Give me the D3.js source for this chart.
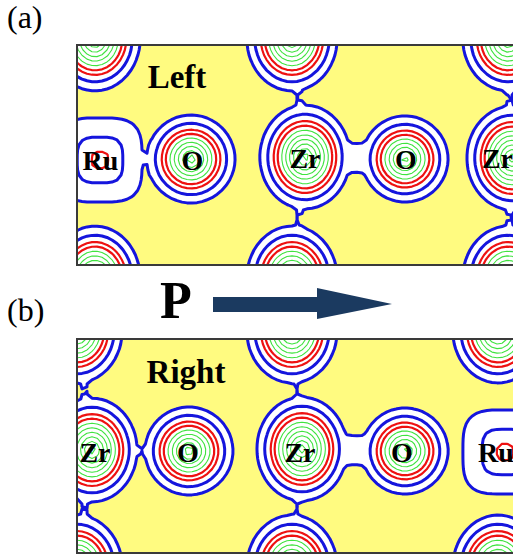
<!DOCTYPE html>
<html>
<head>
<meta charset="utf-8">
<script src="https://cdn.jsdelivr.net/npm/d3@7"></script>
<style>
  body { margin: 0; background: #ffffff; }
  svg { display: block; }
  text { font-family: "Liberation Serif", "Times New Roman", "DejaVu Serif", serif; }
</style>
</head>
<body>
<svg id="fig" width="513" height="556"></svg>
<script>
// ---- Contour levels of the valence charge density (arbitrary units) ----
const levels      = [1.0, 1.55, 2.16, 2.69, 3.36, 4.2, 5.2, 6.5, 8.1, 10.1];
const levelColors = ["#1515dd", "#1515dd", "#ee1111", "#ee1111",
                     "#3fe33f", "#3fe33f", "#3fe33f", "#3fe33f", "#3fe33f", "#3fe33f"];
const levelWidths = [3, 3, 2.2, 2.2, 1.1, 1.1, 1.1, 1.1, 1.1, 1.1];

// ---- Radial density model per element ----
const elementNames   = ["Zr", "O", "Ru"];
const elementAmp     = [12.2, 9.6, 2.6];    // peak density
const elementDecay   = [0.36, 0.38, 0.88];  // decay length (Å)
const elementStretch = [1.15, 1.0, 1.0];    // elongation along the chain (y)
const elementShape   = [2, 2, 3.5];         // superellipse exponent of the iso-surfaces

// ---- Panel (a): "Left" ----
const atomsA_species = ["Ru", "O", "Zr", "O", "Zr", "Zr", "Zr", "Zr", "Zr", "Zr", "Zr"];
const atomsA_x       = [0.46, 2.28, 4.56, 6.56, 8.70, 0.36, 4.30, 8.62, 0.36, 4.30, 8.62];
const atomsA_y       = [2.30, 2.28, 2.24, 2.28, 2.26, -0.12, -0.12, -0.12, 4.66, 4.66, 4.66];
const atomsA_charge  = [1.0, 1.05, 1.0, 1.0, 1.0, 1.0, 1.0, 1.0, 1.0, 1.0, 1.0];
const bondsA_from     = [0, 2, 6, 2, 7, 4];
const bondsA_to       = [1, 3, 2, 9, 4, 10];
const bondsA_strength = [1.0, 1.2, 1.0, 1.0, 1.0, 1.0];
const bondsA_width    = [0.13, 0.40, 0.14, 0.14, 0.14, 0.14];
const labelsA_text = ["Ru", "O", "Zr", "O", "Zr"];
const labelsA_x    = [0.47, 2.31, 4.56, 6.58, 8.41];
const labelsA_y    = [2.50, 2.50, 2.46, 2.48, 2.46];

// ---- Panel (b): "Right" ----
const atomsB_species = ["Zr", "O", "Zr", "O", "Ru", "Zr", "Zr", "Zr", "Zr", "Zr", "Zr"];
const atomsB_x       = [0.30, 2.24, 4.50, 6.56, 8.56, 0.00, 4.30, 8.42, 0.00, 4.30, 8.42];
const atomsB_y       = [2.22, 2.24, 2.20, 2.24, 2.26, -0.16, -0.16, -0.16, 4.56, 4.56, 4.56];
const atomsB_charge  = [1.0, 1.05, 1.0, 1.0, 1.0, 1.0, 1.0, 1.0, 1.0, 1.0, 1.0];
const bondsB_from     = [0, 2, 5, 0, 6, 2];
const bondsB_to       = [1, 3, 0, 8, 2, 9];
const bondsB_strength = [1.0, 1.2, 1.0, 1.0, 1.0, 1.0];
const bondsB_width    = [0.13, 0.40, 0.14, 0.14, 0.14, 0.14];
const labelsB_text = ["Zr", "O", "Zr", "O", "Ru"];
const labelsB_x    = [0.36, 2.22, 4.46, 6.50, 8.38];
const labelsB_y    = [2.46, 2.46, 2.46, 2.46, 2.46];

const panelTitles = ["Left", "Right"];
const panelTags   = ["(a)", "(b)"];

// ---- Layout ----
const PX = 50;          // pixels per Å
const CELL = 0.1;       // sampling step of the density grid (Å)
const MARGIN = 0.8;     // grid margin outside the frame (Å)
const NORM = 14;        // soft-max exponent when combining atomic densities

const svg = d3.select("#fig");
const defs = svg.append("defs");

function density(atoms, bonds, px, py) {
  let s = 0;
  for (const a of atoms) {
    const e = a.el;
    const dx = Math.abs(px - a.x);
    const dy = Math.abs(py - a.y) / e.stretch;
    const r = e.shape === 2 ? Math.hypot(dx, dy)
                            : Math.pow(Math.pow(dx, e.shape) + Math.pow(dy, e.shape), 1 / e.shape);
    const f = e.amp * a.q * Math.exp(-r / e.decay);
    s += Math.pow(f, NORM);
  }
  // bond charge: flat-sided tube between the two atom centres
  for (const b of bonds) {
    const ax = b.a.x, ay = b.a.y, bx = b.b.x, by = b.b.y;
    const vx = bx - ax, vy = by - ay;
    let t = ((px - ax) * vx + (py - ay) * vy) / (vx * vx + vy * vy);
    t = Math.max(0, Math.min(1, t));
    const u = Math.hypot(px - (ax + t * vx), py - (ay + t * vy)) / b.width;
    const f = b.strength * Math.exp(-Math.pow(u, 6));
    s += Math.pow(f, NORM);
  }
  return Math.pow(s, 1 / NORM);
}

function drawPanel(p) {
  const g = svg.append("g");
  const x = d3.scaleLinear().domain([0, p.width]).range([p.left, p.left + p.width * PX]);
  const y = d3.scaleLinear().domain([0, p.height]).range([p.top, p.top + p.height * PX]);

  const atoms = p.species.map((s, i) => {
    const k = elementNames.indexOf(s);
    return {
      x: p.ax[i], y: p.ay[i], q: p.charge[i],
      el: { amp: elementAmp[k], decay: elementDecay[k], stretch: elementStretch[k], shape: elementShape[k] }
    };
  });
  const bonds = p.bFrom.map((f, i) => ({
    a: atoms[f], b: atoms[p.bTo[i]], strength: p.bStrength[i], width: p.bWidth[i]
  }));

  // sample the density on a regular grid
  const x0 = -MARGIN, y0 = -MARGIN;
  const nx = Math.ceil((p.width + 2 * MARGIN) / CELL) + 1;
  const ny = Math.ceil((p.height + 2 * MARGIN) / CELL) + 1;
  const values = new Float64Array(nx * ny);
  for (let j = 0; j < ny; j++)
    for (let i = 0; i < nx; i++)
      values[j * nx + i] = density(atoms, bonds, x0 + i * CELL, y0 + j * CELL);

  const contours = d3.contours().size([nx, ny]).thresholds(levels)(values);
  const proj = d3.geoTransform({
    point(cx, cy) { this.stream.point(x(x0 + (cx - 0.5) * CELL), y(y0 + (cy - 0.5) * CELL)); }
  });
  const path = d3.geoPath(proj);

  const clipId = "clip-" + p.id;
  defs.append("clipPath").attr("id", clipId)
    .append("rect")
    .attr("x", x(0)).attr("y", y(0))
    .attr("width", x(p.width) - x(0)).attr("height", y(p.height) - y(0));

  const plot = g.append("g").attr("clip-path", `url(#${clipId})`);
  plot.append("rect")
    .attr("x", x(0)).attr("y", y(0))
    .attr("width", x(p.width) - x(0)).attr("height", y(p.height) - y(0))
    .attr("fill", "#fffb80");
  plot.append("path").datum(contours[0]).attr("d", path).attr("fill", "#ffffff");
  plot.selectAll("path.iso")
    .data(contours)
    .join("path")
    .attr("class", "iso")
    .attr("d", path)
    .attr("fill", "none")
    .attr("stroke", (d, i) => levelColors[i])
    .attr("stroke-width", (d, i) => levelWidths[i])
    .attr("stroke-linejoin", "round");

  // atom labels
  plot.selectAll("text.atom")
    .data(p.lText)
    .join("text")
    .attr("class", "atom")
    .attr("x", (d, i) => x(p.lx[i]))
    .attr("y", (d, i) => y(p.ly[i]))
    .attr("text-anchor", "middle")
    .attr("font-weight", "bold")
    .attr("font-size", 28)
    .attr("fill", "#000")
    .text(d => d);

  // panel title
  plot.append("text")
    .attr("x", x(p.titleX)).attr("y", y(p.titleY))
    .attr("text-anchor", "middle")
    .attr("font-weight", "bold")
    .attr("font-size", 33)
    .attr("fill", "#000")
    .text(p.title);

  // frame
  g.append("rect")
    .attr("x", x(0)).attr("y", y(0))
    .attr("width", x(p.width) - x(0)).attr("height", y(p.height) - y(0))
    .attr("fill", "none")
    .attr("stroke", "#3a3a3a")
    .attr("stroke-width", 2);

  // panel tag
  svg.append("text")
    .attr("x", 7).attr("y", p.tagY)
    .attr("font-size", 32)
    .attr("fill", "#000")
    .text(p.tag);
}

drawPanel({
  id: "a", left: 77, top: 45, width: 9.4, height: 4.4,
  species: atomsA_species, ax: atomsA_x, ay: atomsA_y, charge: atomsA_charge,
  bFrom: bondsA_from, bTo: bondsA_to, bStrength: bondsA_strength, bWidth: bondsA_width,
  lText: labelsA_text, lx: labelsA_x, ly: labelsA_y,
  title: panelTitles[0], titleX: 2.0, titleY: 0.86,
  tag: panelTags[0], tagY: 28
});

drawPanel({
  id: "b", left: 77, top: 339, width: 9.4, height: 4.28,
  species: atomsB_species, ax: atomsB_x, ay: atomsB_y, charge: atomsB_charge,
  bFrom: bondsB_from, bTo: bondsB_to, bStrength: bondsB_strength, bWidth: bondsB_width,
  lText: labelsB_text, lx: labelsB_x, ly: labelsB_y,
  title: panelTitles[1], titleX: 2.18, titleY: 0.88,
  tag: panelTags[1], tagY: 321
});

// polarization direction
svg.append("text")
  .attr("x", 160).attr("y", 318)
  .attr("font-size", 52)
  .attr("font-weight", "bold")
  .attr("fill", "#000")
  .text("P");
svg.append("path")
  .attr("d", "M213,297 L317,297 L317,288 L392,304 L317,319 L317,312 L213,312 Z")
  .attr("fill", "#1b3a60");
</script>
</body>
</html>
